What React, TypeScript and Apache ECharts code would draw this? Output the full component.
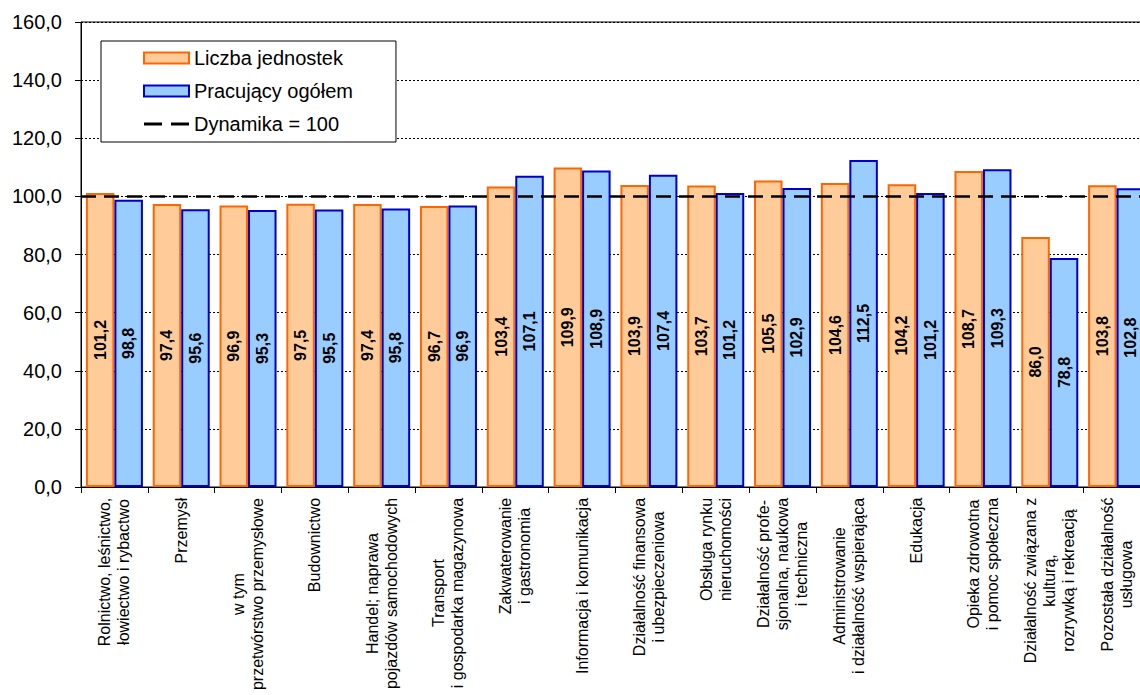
import React, { useEffect, useRef } from "react";
import * as echarts from "echarts";

const categoryLines: string[][] = [
  ["Rolnictwo, leśnictwo,", "łowiectwo i rybactwo"],
  ["Przemysł"],
  ["w tym", "przetwórstwo przemysłowe"],
  ["Budownictwo"],
  ["Handel; naprawa", "pojazdów samochodowych"],
  ["Transport", "i gospodarka magazynowa"],
  ["Zakwaterowanie", "i gastronomia"],
  ["Informacja i komunikacja"],
  ["Działalność finansowa", "i ubezpieczeniowa"],
  ["Obsługa rynku", "nieruchomości"],
  ["Działalność profe-", "sjonalna, naukowa", "i techniczna"],
  ["Administrowanie", "i działalność wspierająca"],
  ["Edukacja"],
  ["Opieka zdrowotna", "i pomoc społeczna"],
  ["Działalność związana z", "kulturą,", "rozrywką i rekreacją"],
  ["Pozostała działalność", "usługowa"],
];
const categories: string[] = categoryLines.map((l) => l.join("\n"));

const unitsValues: number[] = [
  101.2, 97.4, 96.9, 97.5, 97.4, 96.7, 103.4, 109.9, 103.9, 103.7, 105.5, 104.6, 104.2, 108.7, 86.0, 103.8,
];
const employedValues: number[] = [
  98.8, 95.6, 95.3, 95.5, 95.8, 96.9, 107.1, 108.9, 107.4, 101.2, 102.9, 112.5, 101.2, 109.3, 78.8, 102.8,
];
const seriesNames: string[] = ["Liczba jednostek", "Pracujący ogółem", "Dynamika = 100"];
const DYNAMICS_BASE = 100;
const Y_MIN = 0;
const Y_MAX = 160;
const Y_STEP = 20;

const FONT = '"Liberation Sans", Arial, Helvetica, sans-serif';
const X_FONT_SIZE = 16;
const X_LINE_HEIGHT = 19;

const fmt = (v: number) => v.toFixed(1).replace(".", ",");

function measureWidth(text: string, size: number): number {
  const c = document.createElement("canvas");
  const ctx = c.getContext("2d");
  if (!ctx) return text.length * size * 0.55;
  ctx.font = `${size}px ${FONT}`;
  return ctx.measureText(text).width;
}

export default function App() {
  const ref = useRef<HTMLDivElement>(null);

  useEffect(() => {
    if (!ref.current) return;
    const chart = echarts.init(ref.current, undefined, { renderer: "svg" });

    const rich: Record<string, any> = {};
    categoryLines.forEach((lines, i) => {
      const w = Math.ceil(Math.max(...lines.map((l) => measureWidth(l, X_FONT_SIZE)))) + 1;
      rich["c" + i] = {
        width: w,
        align: "center",
        fontSize: X_FONT_SIZE,
        lineHeight: X_LINE_HEIGHT,
        fontFamily: FONT,
        color: "#000",
      };
    });

    const barLabel = {
      show: true,
      position: "inside",
      rotate: 90,
      formatter: (p: any) => fmt(p.value),
      fontSize: 16,
      fontWeight: "bold",
      fontFamily: FONT,
      color: "#000",
      textBorderWidth: 0,
    };

    const option: any = {
      animation: false,
      backgroundColor: "#fff",
      grid: {
        left: 81,
        right: 10,
        top: 22,
        bottom: 208,
        show: true,
        borderColor: "#000",
        borderWidth: 1,
        backgroundColor: "transparent",
      },
      legend: {
        orient: "vertical",
        left: 101,
        top: 41,
        padding: [7, 43, 8, 42],
        itemGap: 13,
        itemWidth: 45,
        itemHeight: 11,
        backgroundColor: "#fff",
        borderColor: "#000",
        borderWidth: 1,
        selectedMode: false,
        textStyle: { fontSize: 20, color: "#000", fontFamily: FONT, lineHeight: 20 },
        data: [
          { name: seriesNames[0], icon: "rect" },
          { name: seriesNames[1], icon: "rect" },
          {
            name: seriesNames[2],
            icon: "path://M0,0H18V3H0Z M27,0H45V3H27Z",
            itemStyle: { color: "#000", borderWidth: 0 },
          },
        ],
      },
      xAxis: {
        type: "category",
        data: categories,
        axisLine: { lineStyle: { color: "#000", width: 1 } },
        axisTick: { show: true, length: 6, lineStyle: { color: "#000" } },
        axisLabel: {
          interval: 0,
          rotate: 90,
          margin: 10,
          hideOverlap: false,
          color: "#000",
          fontSize: X_FONT_SIZE,
          fontFamily: FONT,
          lineHeight: X_LINE_HEIGHT,
          formatter: (value: string, index: number) =>
            value
              .split("\n")
              .map((l) => `{c${index}|${l}}`)
              .join("\n"),
          rich,
        },
      },
      yAxis: {
        type: "value",
        min: Y_MIN,
        max: Y_MAX,
        interval: Y_STEP,
        axisLine: { show: true, lineStyle: { color: "#000", width: 1 } },
        axisTick: { show: true, length: 6, lineStyle: { color: "#000" } },
        axisLabel: {
          formatter: (v: number) => fmt(v),
          fontSize: 20,
          color: "#000",
          fontFamily: FONT,
          margin: 19,
        },
        splitLine: { show: true, lineStyle: { color: "#000", type: [2, 2], width: 1 } },
      },
      series: [
        {
          name: seriesNames[0],
          type: "bar",
          data: unitsValues,
          barWidth: 28.5,
          barGap: "0%",
          itemStyle: { color: "#FFCC99", borderColor: "#FF6600", borderWidth: 2 },
          label: barLabel,
        },
        {
          name: seriesNames[1],
          type: "bar",
          data: employedValues,
          barWidth: 28.5,
          barGap: "0%",
          itemStyle: { color: "#99CCFF", borderColor: "#0000CC", borderWidth: 2 },
          label: barLabel,
        },
        {
          name: seriesNames[2],
          type: "line",
          data: [],
          symbol: "none",
          z: 5,
          itemStyle: { color: "#000" },
          lineStyle: { color: "#000", width: 2.5, type: [17, 8] },
          markLine: {
            silent: true,
            symbol: ["none", "none"],
            label: { show: false },
            lineStyle: { color: "#000", width: 2.5, type: [15, 8] },
            data: [{ yAxis: DYNAMICS_BASE }],
          },
        },
      ],
    };

    chart.setOption(option);
    return () => chart.dispose();
  }, []);

  return (
    <div
      style={{
        position: "fixed",
        left: 0,
        top: 0,
        width: 1140,
        height: 695,
        overflow: "hidden",
        background: "#fff",
      }}
    >
      <div ref={ref} style={{ width: 1160, height: 695 }} />
    </div>
  );
}
